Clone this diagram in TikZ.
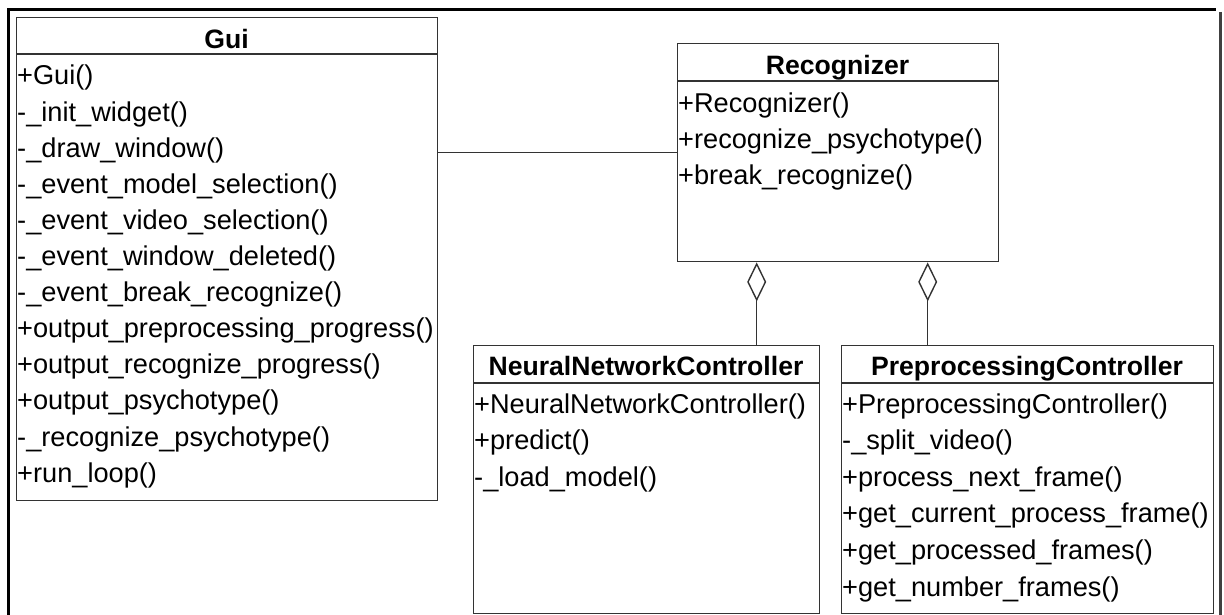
\documentclass[tikz,border=0pt]{standalone}
\usepackage{fontspec}
\setmainfont{Liberation Sans}
\usetikzlibrary{arrows.meta}
\definecolor{boxline}{HTML}{333333}
\begin{document}
\begin{tikzpicture}[x=1pt,y=-1pt,
  classbox/.style={draw=boxline,line width=1.4pt,rectangle,anchor=north west,inner sep=0pt},
  headline/.style={draw=boxline,line width=1.4pt},
  title/.style={anchor=base,inner sep=0pt,font=\fontsize{26.6}{30}\selectfont\bfseries},
  item/.style={anchor=base west,inner sep=0pt,font=\fontsize{27.2}{30}\selectfont},
  conn/.style={draw=boxline,line width=1.4pt},
  agg/.style={conn,-{Diamond[open,length=39pt,width=19pt,line width=1.4pt]}},
  frame/.style={line width=3pt,draw=black}]
\useasboundingbox (0,0) rectangle (1224,615);
% outer frame (open at the bottom)
\draw[frame] (8,616) -- (8,10) -- (1216,10);
\draw[frame,draw=black!75] (1220,12) -- (1220,616);

% ---------- Gui ----------
\node[classbox,minimum width=421pt,minimum height=483pt] (gui) at (16,17) {};
\draw[headline] ([yshift=-37pt]gui.north west) -- ([yshift=-37pt]gui.north east);
\node[title] (guiT) at (226.5,49) {Gui};
\foreach \t [count=\i from 0] in {+Gui(),-\_init\_widget(),-\_draw\_window(),-\_event\_model\_selection(),-\_event\_video\_selection(),-\_event\_window\_deleted(),-\_event\_break\_recognize(),+output\_preprocessing\_progress(),+output\_recognize\_progress(),+output\_psychotype(),-\_recognize\_psychotype(),+run\_loop()}
  \node[item] (gui\i) at (17,{85+36.1*\i}) {\t};

% ---------- Recognizer ----------
\node[classbox,minimum width=321pt,minimum height=218pt] (rec) at (677,43) {};
\draw[headline] ([yshift=-38pt]rec.north west) -- ([yshift=-38pt]rec.north east);
\node[title] (recT) at (837.5,75) {Recognizer};
\foreach \t [count=\i from 0] in {+Recognizer(),+recognize\_psychotype(),+break\_recognize()}
  \node[item] (rec\i) at (678,{113+35.7*\i}) {\t};

% ---------- NeuralNetworkController ----------
\node[classbox,minimum width=346pt,minimum height=268pt] (nnc) at (473,345) {};
\draw[headline] ([yshift=-38pt]nnc.north west) -- ([yshift=-38pt]nnc.north east);
\node[title] (nncT) at (646,375) {NeuralNetworkController};
\foreach \t [count=\i from 0] in {+NeuralNetworkController(),+predict(),-\_load\_model()}
  \node[item] (nnc\i) at (474,{413+36.6*\i}) {\t};

% ---------- PreprocessingController ----------
\node[classbox,minimum width=372pt,minimum height=268pt] (pc) at (841,345) {};
\draw[headline] ([yshift=-38pt]pc.north west) -- ([yshift=-38pt]pc.north east);
\node[title] (pcT) at (1027,375) {PreprocessingController};
\foreach \t [count=\i from 0] in {+PreprocessingController(),-\_split\_video(),+process\_next\_frame(),+get\_current\_process\_frame(),+get\_processed\_frames(),+get\_number\_frames()}
  \node[item] (pc\i) at (842,{413+36.6*\i}) {\t};

% ---------- connectors ----------
\draw[conn] (rec.west) -- (rec.west -| gui.east);
\coordinate (a1) at ([xshift=-81.5pt]rec.south);
\coordinate (a2) at ([xshift=89.5pt]rec.south);
\draw[agg] (a1 |- nnc.north) -- (a1);
\draw[agg] (a2 |- pc.north) -- (a2);
\end{tikzpicture}
\end{document}
